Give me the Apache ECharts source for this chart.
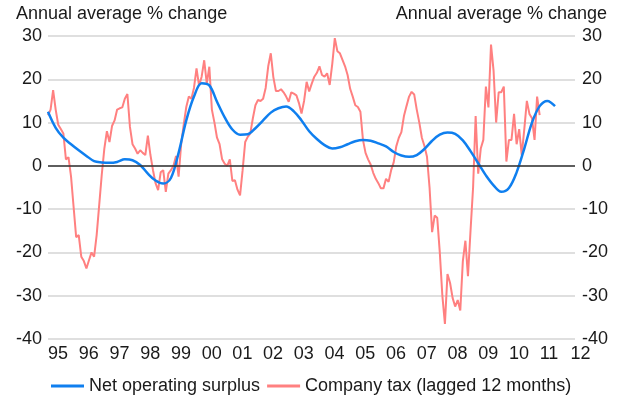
<!DOCTYPE html>
<html>
<head>
<meta charset="utf-8">
<script src="https://cdn.jsdelivr.net/npm/echarts@6/dist/echarts.min.js"></script>
<style>
  html, body { margin: 0; padding: 0; background: #fff; }
  #chart { width: 624px; height: 401px; }
</style>
</head>
<body>
<div id="chart"></div>
<script>
const START_YEAR = 1995

// Net operating surplus, quarterly, from Q1 1995
const nosValues = [
    12.5, 8.8, 6.5, 5.0, 3.6, 2.3, 1.1, 0.8, 0.7, 0.9,
    1.5, 1.3, 0.2, -1.8, -3.4, -4.1, -2.8, 3.0, 10.5, 16.0,
    19.1, 18.6, 14.8, 11.2, 8.4, 7.2, 7.3, 8.7, 10.5, 12.3,
    13.3, 13.7, 12.6, 10.5, 8.0, 6.2, 4.8, 4.0, 4.3, 5.0,
    5.7, 6.0, 5.8, 5.2, 4.5, 3.2, 2.4, 2.1, 2.5, 3.9,
    5.8, 7.2, 7.7, 7.4, 5.9, 3.4, 0.6, -2.2, -4.5, -6.0,
    -5.1, -1.5, 4.0, 10.0, 13.8, 15.0, 13.8
]

// Company tax (lagged 12 months), monthly, from Jan 1995
const taxValues = [
    11.7, 13, 17.5, 13, 9.5, 8.5, 7.5, 1.5, 2, -2.5,
    -9.5, -16.5, -16, -21, -22, -23.7, -21.8, -20, -21, -16,
    -9, -2, 4, 8, 5.5, 9.2, 10.5, 13, 13.3, 13.5,
    15.5, 16.6, 9, 5, 4, 2.8, 3.6, 3, 2.5, 7,
    2.5, -1, -4, -5.6, -1.5, -1, -6, -1.8, -1, 0,
    2.3, -2.5, 5, 9.5, 13.6, 16, 15.5, 18, 22.5, 18.5,
    20.6, 24.4, 19, 22.9, 13, 10, 6.5, 5, 1.5, 0.5,
    0, 1.5, -3.5, -3.3, -5.5, -6.8, -1, 5.5, 6.7, 7.5,
    11, 14, 15.2, 15, 15.5, 18, 23, 26, 20.5, 17.3,
    17.3, 17.7, 17, 16, 14.8, 17, 16.7, 16.3, 14.5, 12.1,
    15, 19.4, 17.2, 19, 20.6, 21.5, 23, 21, 20.6, 21.4,
    18.7, 23.5, 29.5, 26.5, 26, 24.5, 23, 21, 17.8, 16,
    14, 13.6, 12.5, 6, 3, 1.5, 0.3, -1.6, -3, -4,
    -5.2, -5.2, -3, -3.7, -1, 0.8, 4.5, 6.5, 7.8, 11.5,
    13.8, 16, 17.1, 16.5, 13, 10, 6.5, 4.6, 2.1, -5,
    -15.3, -11.5, -12, -20, -30, -36.5, -25, -27, -30.5, -32.5,
    -31, -33.4, -22, -17.3, -25.5, -15, -5, 11.5, -1.8, 4,
    6, 18.3, 13.5, 28, 22, 10, 17, 17, 18.3, 1,
    6, 6, 12, 5, 8.5, 2.5, 8.5, 15, 12, 11,
    6, 16, 11.7
]

const yTicks = { min: -40, max: 30, step: 10 }
const axisTitle = 'Annual average % change'
const seriesNames = ['Net operating surplus', 'Company tax (lagged 12 months)']

const FONT = '"Liberation Sans", Arial, sans-serif'
const FS = 18
const TEXT = '#1a1a1a'

function yearLabel(v) {
    return String(Math.round(v) % 100).padStart(2, '0')
}

let nosData = nosValues.map((v, i) => [START_YEAR + i / 4, v])
let taxData = taxValues.map((v, i) => [START_YEAR + i / 12, v])

function yAxis(pos, grid) {
    return {
        type: 'value',
        position: pos,
        min: yTicks.min,
        max: yTicks.max,
        interval: yTicks.step,
        axisLine: { show: false },
        axisTick: { show: false },
        axisLabel: {
            color: TEXT,
            fontFamily: FONT,
            fontSize: FS,
            margin: pos == 'left' ? 6 : 7,
            padding: [5, 0, 0, 0]
        },
        splitLine: {
            show: grid,
            lineStyle: { color: '#d4d4d4', width: 1.5 }
        }
    }
}

var myChart = echarts.init(document.getElementById('chart'), null, { renderer: 'canvas' })

var option = {
    animation: false,
    backgroundColor: '#fff',
    grid: { left: 48, right: 49, top: 36, bottom: 62 },
    graphic: [
        {
            type: 'text', left: 16, top: 5,
            style: { text: axisTitle, font: FS + 'px ' + FONT, fill: TEXT }
        },
        {
            type: 'text', right: 17, top: 5,
            style: { text: axisTitle, font: FS + 'px ' + FONT, fill: TEXT }
        }
    ],
    legend: {
        left: 46,
        top: 372,
        itemWidth: 33,
        itemHeight: 3,
        itemGap: 7,
        icon: 'rect',
        textStyle: { color: TEXT, fontFamily: FONT, fontSize: FS },
        data: seriesNames
    },
    xAxis: {
        type: 'value',
        min: START_YEAR,
        max: 2012.15,
        interval: 1,
        axisLine: { show: false },
        axisTick: { show: false },
        splitLine: { show: false },
        axisLabel: {
            color: TEXT,
            fontFamily: FONT,
            fontSize: FS,
            margin: 6,
            align: 'left',
            showMaxLabel: false,
            formatter: yearLabel
        }
    },
    yAxis: [yAxis('left', true), yAxis('right', false)],
    series: [
        {
            name: seriesNames[0],
            type: 'line',
            data: nosData,
            showSymbol: false,
            smooth: 0.35,
            color: '#0f7fef',
            lineStyle: { width: 2.5 },
            z: 3,
            markLine: {
                silent: true,
                symbol: 'none',
                label: { show: false },
                lineStyle: { color: '#333', width: 1.5, type: 'solid' },
                data: [{ yAxis: 0 }]
            }
        },
        {
            name: seriesNames[1],
            type: 'line',
            data: taxData,
            showSymbol: false,
            color: '#ff8080',
            lineStyle: { width: 2 },
            z: 2
        }
    ]
}

myChart.setOption(option)
</script>
</body>
</html>
